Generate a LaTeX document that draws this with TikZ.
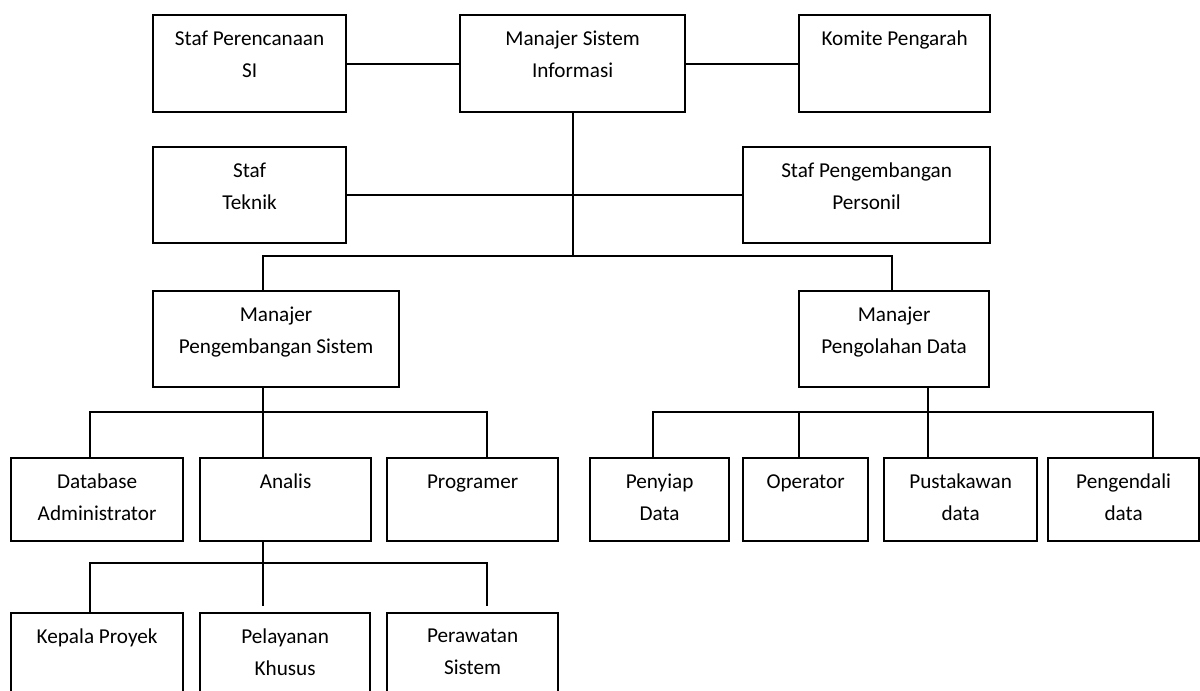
\documentclass[tikz,border=0pt]{standalone}
\usepackage{fontspec}
\setmainfont{Carlito}
\usepackage{tikz}
\usetikzlibrary{positioning}
\tikzset{
  box/.style={draw,line width=1.1pt,anchor=north west,inner sep=0pt,minimum height=48pt},
  lbl/.style={anchor=north,inner sep=0pt,yshift=-8.3pt,align=center,
    execute at begin node={\rule{0pt}{8.2pt}},
    font=\fontsize{10.6}{16}\selectfont},
  txt/.style={label={[lbl]north:#1}},
  txtone/.style={label={[lbl,yshift=1pt]north:#1}},
  link/.style={line width=1pt},
}
\begin{document}
\begin{tikzpicture}[x=0.5pt,y=-0.5pt]
  \useasboundingbox (0,0) rectangle (1200,691);
  \clip (0,0) rectangle (1200,691);

  \node[box,minimum width=96.5pt,minimum height=48.5pt,txt={Staf Perencanaan\\SI}] (sps) at (152,14) {};
  \node[box,minimum width=112.5pt,minimum height=48.5pt,txt={Manajer Sistem\\Informasi}] (msi) at (459,14) {};
  \node[box,minimum width=95.5pt,minimum height=48.5pt,txtone={Komite Pengarah}] (kmt) at (798,14) {};
  \node[box,minimum width=96.5pt,txt={Staf\\Teknik}] (stk) at (152,146) {};
  \node[box,minimum width=123.5pt,txt={Staf Pengembangan\\Personil}] (spp) at (742,146) {};
  \node[box,minimum width=123pt,txt={Manajer\\Pengembangan Sistem}] (mps) at (152,290) {};
  \node[box,minimum width=95pt,txt={Manajer\\Pengolahan Data}] (mpd) at (798,290) {};

  \node[box,minimum width=86pt,minimum height=41.5pt,txt={Database\\Administrator}] (dba) at (10,457) {};
  \node[box,minimum width=85.5pt,minimum height=41.5pt,txtone={Analis}] (ana) at (199,457) {};
  \node[box,minimum width=85.5pt,minimum height=41.5pt,txtone={Programer}] (prg) at (386,457) {};
  \node[box,minimum width=69.5pt,minimum height=41.5pt,txt={Penyiap\\Data}] (pyd) at (589,457) {};
  \node[box,minimum width=62.5pt,minimum height=41.5pt,txtone={Operator}] (opr) at (742,457) {};
  \node[box,minimum width=76.5pt,minimum height=41.5pt,txt={Pustakawan\\data}] (pus) at (883,457) {};
  \node[box,minimum width=75.5pt,minimum height=41.5pt,txt={Pengendali\\data}] (pgd) at (1047,457) {};

  \node[box,minimum width=86pt,minimum height=50pt,txtone={Kepala Proyek}] (kpr) at (10,612) {};
  \node[box,minimum width=85pt,minimum height=50pt,txt={Pelayanan\\Khusus}] (pel) at (199,612) {};
  \node[box,minimum width=85.5pt,minimum height=50pt,txt={Perawatan\\Sistem}] (prw) at (386,612) {};

  \coordinate (b1l) at (263,256);
  \coordinate (b1r) at (892,256);
  \coordinate (b2l) at (90,412);
  \coordinate (b2m) at (263,412);
  \coordinate (b2r) at (487,412);
  \coordinate (b3a) at (653,412);
  \coordinate (b3b) at (799,412);
  \coordinate (b3c) at (928,412);
  \coordinate (b3d) at (1153,412);
  \coordinate (b4l) at (90,563);
  \coordinate (b4r) at (487,563);

  \draw[link] (sps.east) -- (msi.west);
  \draw[link] (msi.east) -- (kmt.west);
  \draw[link] (msi.south) -- (msi.south |- b1l);
  \draw[link] (stk.east) -- (spp.west);
  \draw[link] (mps.north -| b1l) |- (b1r) -- (mpd.north -| b1r);

  \draw[link] (mps.south -| b2m) -- (ana.north -| b2m);
  \draw[link] (dba.north -| b2l) |- (b2r) -- (prg.north -| b2r);

  \draw[link] (mpd.south -| b3c) -- (pus.north -| b3c);
  \draw[link] (pyd.north -| b3a) |- (b3d) -- (pgd.north -| b3d);
  \draw[link] (b3b) -- (opr.north -| b3b);

  \draw[link,shorten >=3pt] (ana.south -| b2m) -- (pel.north -| b2m);
  \draw[link,shorten >=3pt] (kpr.north -| b4l) |- (b4r) -- (prw.north -| b4r);
\end{tikzpicture}
\end{document}
